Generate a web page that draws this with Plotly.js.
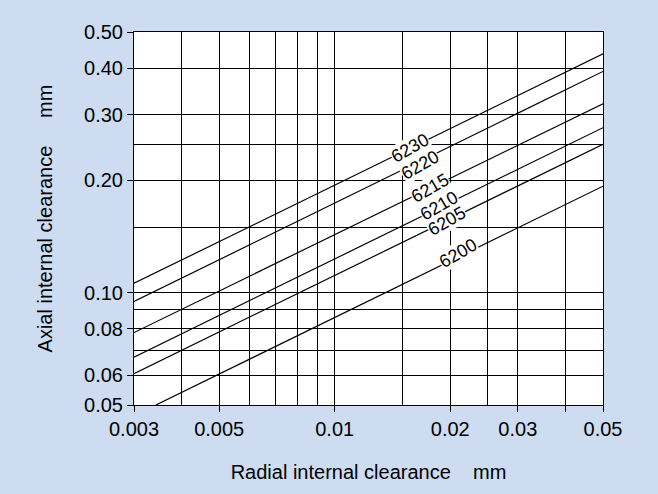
<!DOCTYPE html>
<html>
<head>
<meta charset="utf-8">
<script src="https://cdn.plot.ly/plotly-3.0.1.min.js"></script>
<style>
html,body{margin:0;padding:0;background:#cddcf1;}
#chart{width:658px;height:494px;}
</style>
</head>
<body>
<div id="chart"></div>
<script>
// Series (bearing numbers) and line end points
const seriesNames = ['6230', '6220', '6215', '6210', '6205', '6200'];
const xStart = [0.003, 0.003, 0.003, 0.003, 0.003, 0.00342];
const xEnd   = [0.05, 0.05, 0.05, 0.05, 0.05, 0.05];
const yStart = [0.106, 0.0947, 0.0782, 0.0672, 0.0607, 0.05];
const yEnd   = [0.437, 0.392, 0.321, 0.277, 0.250, 0.193];

// Label positions along each line
const labelX = [0.01573, 0.0167, 0.01773, 0.01864, 0.0196, 0.0210];
const labelY = [0.2443, 0.2204, 0.1909, 0.1711, 0.1553, 0.1278];

// Axis ticks and grid
const xTickVals = [0.003, 0.005, 0.01, 0.02, 0.03, 0.04, 0.05];
const xTickText = ['0.003', '0.005', '0.01', '0.02', '0.03', '', '0.05'];
const xMinorGrid = [0.004, 0.006, 0.007, 0.008, 0.009, 0.015, 0.025];
const yTickVals = [0.05, 0.06, 0.08, 0.10, 0.20, 0.30, 0.40, 0.50];
const yTickText = ['0.05', '0.06', '0.08', '0.10', '0.20', '0.30', '0.40', '0.50'];
const yMinorGrid = [0.07, 0.09, 0.15, 0.25];

const FONT = '"Liberation Sans", Arial, Helvetica, sans-serif';
const NB = '\u00a0';
const FS = 20;

const traces = seriesNames.map((name, i) => ({
  type: 'scatter',
  mode: 'lines',
  name: name,
  x: [xStart[i], xEnd[i]],
  y: [yStart[i], yEnd[i]],
  line: {color: '#000', width: 1.2},
  hoverinfo: 'skip'
}));

const annotations = seriesNames.map((name, i) => ({
  x: Math.log10(labelX[i]),
  y: Math.log10(labelY[i]),
  xref: 'x', yref: 'y',
  text: name,
  showarrow: false,
  textangle: -30,
  bgcolor: '#ffffff',
  borderpad: 0,
  font: {family: FONT, size: 18, color: '#000'}
}));

const layout = {
  width: 658,
  height: 494,
  paper_bgcolor: '#cddcf1',
  plot_bgcolor: '#ffffff',
  showlegend: false,
  margin: {l: 134, r: 55, t: 32, b: 89},
  font: {family: FONT, size: FS, color: '#000'},
  xaxis: {
    type: 'log',
    range: [Math.log10(0.003), Math.log10(0.05)],
    tickmode: 'array',
    tickvals: xTickVals,
    ticktext: xTickText,
    ticks: 'outside',
    ticklen: 6,
    tickcolor: '#000',
    tickwidth: 1,
    showgrid: true,
    gridcolor: '#000',
    gridwidth: 1,
    minor: {tickmode: 'array', tickvals: xMinorGrid, showgrid: true, gridcolor: '#000', gridwidth: 1, ticks: ''},
    showline: true,
    linecolor: '#000',
    linewidth: 1,
    mirror: true,
    tickfont: {family: FONT, size: FS, color: '#000'},
    title: {text: 'Radial internal clearance' + NB + NB + NB + NB + 'mm', font: {family: FONT, size: FS, color: '#000'}, standoff: 25},
    automargin: false,
    fixedrange: true
  },
  yaxis: {
    type: 'log',
    range: [Math.log10(0.05), Math.log10(0.5)],
    tickmode: 'array',
    tickvals: yTickVals,
    ticktext: yTickText,
    ticks: 'outside',
    ticklen: 6,
    tickcolor: '#000',
    tickwidth: 1,
    showgrid: true,
    gridcolor: '#000',
    gridwidth: 1,
    minor: {tickmode: 'array', tickvals: yMinorGrid, showgrid: true, gridcolor: '#000', gridwidth: 1, ticks: ''},
    showline: true,
    linecolor: '#000',
    linewidth: 1,
    mirror: true,
    tickfont: {family: FONT, size: FS, color: '#000'},
    title: {text: 'Axial internal clearance' + NB + NB + NB + NB + NB + 'mm' + NB + NB + NB + NB + NB, font: {family: FONT, size: FS, color: '#000'}, standoff: 26},
    automargin: false,
    fixedrange: true
  },
  annotations: annotations
};

Plotly.newPlot('chart', traces, layout, {displayModeBar: false, staticPlot: true});
</script>
</body>
</html>
